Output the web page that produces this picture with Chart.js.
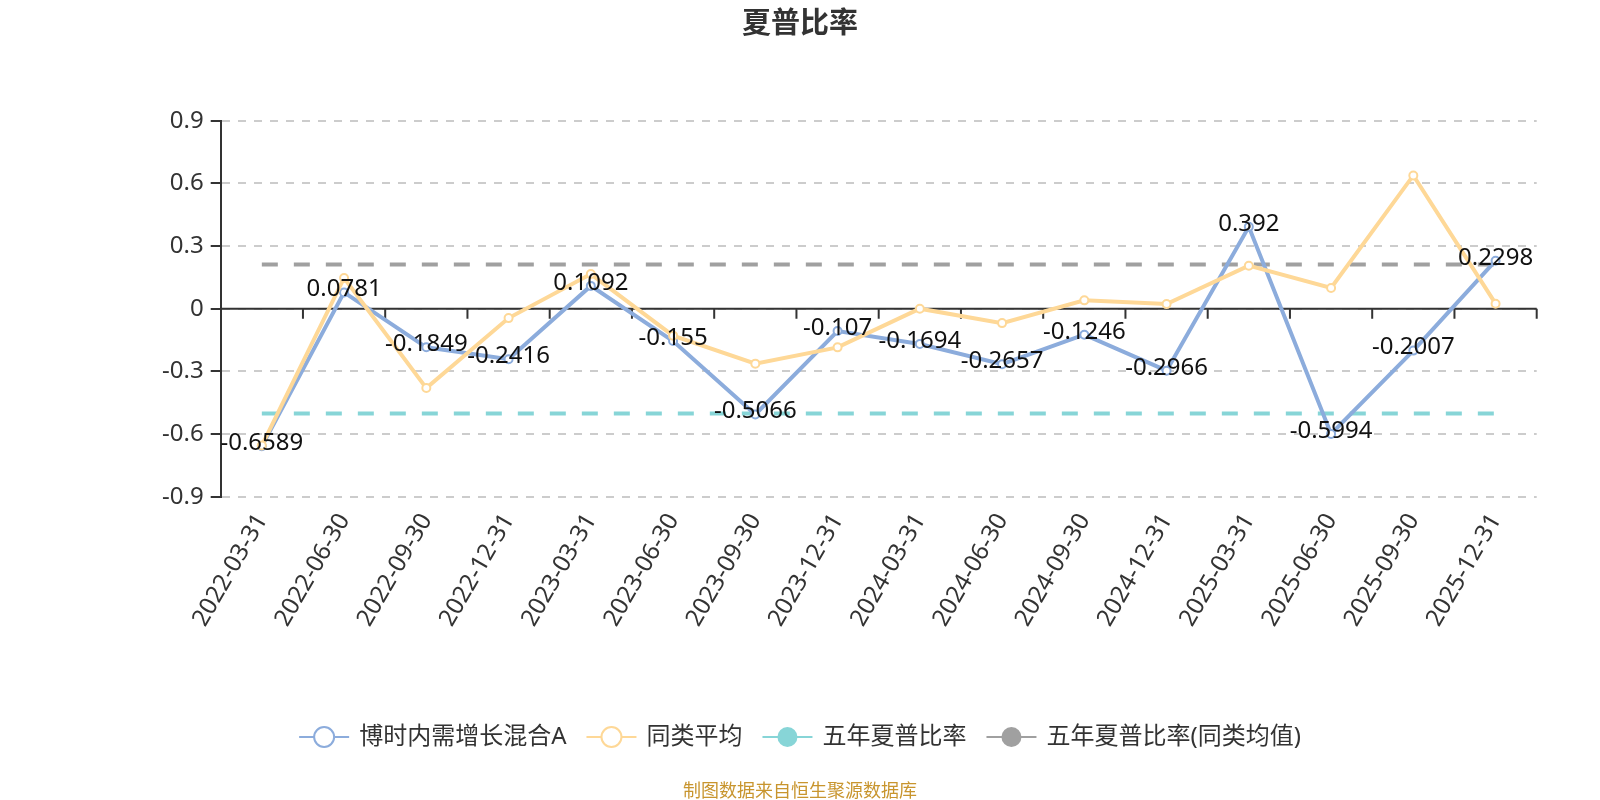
<!DOCTYPE html>
<html lang="zh">
<head>
<meta charset="UTF-8">
<title>夏普比率</title>
<style>
    body { margin: 0; background: #fff; }
    #wrap { width: 1600px; height: 800px; }
</style>
</head>
<body>
<div id="wrap"><canvas id="chart" width="1600" height="800"></canvas></div>
<script src="https://cdn.jsdelivr.net/npm/chart.js"></script>
<script>
// values
const categories = ['2022-03-31', '2022-06-30', '2022-09-30', '2022-12-31', '2023-03-31', '2023-06-30',
    '2023-09-30', '2023-12-31', '2024-03-31', '2024-06-30', '2024-09-30', '2024-12-31',
    '2025-03-31', '2025-06-30', '2025-09-30', '2025-12-31'];
const fundValues = [-0.6589, 0.0781, -0.1849, -0.2416, 0.1092, -0.155, -0.5066, -0.107,
    -0.1694, -0.2657, -0.1246, -0.2966, 0.392, -0.5994, -0.2007, 0.2298];
const peerAvgValues = [-0.655, 0.147, -0.380, -0.045, 0.166, -0.129, -0.263, -0.185,
    0.0, -0.069, 0.040, 0.022, 0.206, 0.099, 0.638, 0.024];
const fiveYearValues = [-0.502, -0.502, -0.502, -0.502, -0.502, -0.502, -0.502, -0.502,
    -0.502, -0.502, -0.502, -0.502, -0.502, -0.502, -0.502, -0.502];
const fiveYearPeerValues = [0.212, 0.212, 0.212, 0.212, 0.212, 0.212, 0.212, 0.212,
    0.212, 0.212, 0.212, 0.212, 0.212, 0.212, 0.212, 0.212];
const yTicks = [-0.9, -0.6, -0.3, 0, 0.3, 0.6, 0.9];
const seriesNames = ['博时内需增长混合A', '同类平均', '五年夏普比率', '五年夏普比率(同类均值)'];

const BLUE = '#8cacdc';
const YELLOW = '#fed897';
const TEAL = '#87d5d7';
const GRAY = '#a0a0a0';
const FONT = "'Noto Sans', 'Noto Sans CJK SC', sans-serif";

// legend entries: colour + whether the marker is hollow
const legendItems = [
    { name: seriesNames[0], color: BLUE, hollow: true },
    { name: seriesNames[1], color: YELLOW, hollow: true },
    { name: seriesNames[2], color: TEAL, hollow: false },
    { name: seriesNames[3], color: GRAY, hollow: false }
];

// extra drawing: title, zero axis line, value labels, legend, source note
const decorPlugin = {
    id: 'decor',
    beforeDatasetsDraw(chart) {
        const ctx = chart.ctx;
        const x = chart.scales.x, y = chart.scales.y;
        const y0 = y.getPixelForValue(0);
        const step = x.getPixelForValue(1) - x.getPixelForValue(0);
        ctx.save();
        ctx.strokeStyle = '#333';
        ctx.lineWidth = 2;
        ctx.beginPath();
        ctx.moveTo(chart.chartArea.left, y0);
        ctx.lineTo(chart.chartArea.right, y0);
        for (let i = 0; i < categories.length; i++) {
            const bx = x.getPixelForValue(i) + step / 2;
            ctx.moveTo(bx, y0);
            ctx.lineTo(bx, y0 + 10);
        }
        ctx.stroke();
        ctx.restore();
    },
    afterDatasetsDraw(chart) {
        const ctx = chart.ctx;
        const meta = chart.getDatasetMeta(0);
        ctx.save();
        ctx.font = '24px ' + FONT;
        ctx.fillStyle = '#111';
        ctx.textAlign = 'center';
        ctx.textBaseline = 'middle';
        meta.data.forEach((pt, i) => {
            ctx.fillText(String(fundValues[i]), pt.x, pt.y - 3);
        });
        ctx.restore();
    },
    afterDraw(chart) {
        const ctx = chart.ctx;
        ctx.save();
        // title
        ctx.font = "bold 29px 'Noto Sans CJK SC', sans-serif";
        ctx.fillStyle = '#333';
        ctx.textAlign = 'center';
        ctx.textBaseline = 'middle';
        ctx.fillText('夏普比率', 800, 22);

        // legend
        ctx.font = '24px ' + FONT;
        const iconW = 50, textGap = 10, itemGap = 20;
        const widths = legendItems.map(it => iconW + textGap + ctx.measureText(it.name).width);
        const total = widths.reduce((a, b) => a + b, 0) + itemGap * (legendItems.length - 1);
        let lx = 800 - total / 2;
        const ly = 737;
        legendItems.forEach((it, i) => {
            ctx.strokeStyle = it.color;
            ctx.lineWidth = 2;
            ctx.beginPath();
            ctx.moveTo(lx, ly);
            ctx.lineTo(lx + iconW, ly);
            ctx.stroke();
            ctx.beginPath();
            ctx.arc(lx + iconW / 2, ly, 10, 0, Math.PI * 2);
            if (it.hollow) {
                ctx.fillStyle = '#fff';
                ctx.fill();
                ctx.stroke();
            } else {
                ctx.fillStyle = it.color;
                ctx.fill();
            }
            ctx.fillStyle = '#333';
            ctx.textAlign = 'left';
            ctx.fillText(it.name, lx + iconW + textGap, ly);
            lx += widths[i] + itemGap;
        });

        // source note
        ctx.font = "18px 'Noto Sans CJK SC', sans-serif";
        ctx.fillStyle = '#c8952e';
        ctx.textAlign = 'center';
        ctx.fillText('制图数据来自恒生聚源数据库', 800, 790);
        ctx.restore();
    }
};

const ctx = document.getElementById('chart').getContext('2d');
new Chart(ctx, {
    type: 'line',
    data: {
        labels: categories,
        datasets: [{
            label: seriesNames[0],
            data: fundValues,
            borderColor: BLUE,
            borderWidth: 4,
            pointRadius: 4,
            pointBorderWidth: 2,
            pointBackgroundColor: '#fff',
            pointBorderColor: BLUE,
            order: 1
        }, {
            label: seriesNames[1],
            data: peerAvgValues,
            borderColor: YELLOW,
            borderWidth: 4,
            pointRadius: 4,
            pointBorderWidth: 2,
            pointBackgroundColor: '#fff',
            pointBorderColor: YELLOW,
            order: 0
        }, {
            label: seriesNames[2],
            data: fiveYearValues,
            borderColor: TEAL,
            borderWidth: 4,
            borderDash: [16, 16],
            pointRadius: 0,
            order: 2
        }, {
            label: seriesNames[3],
            data: fiveYearPeerValues,
            borderColor: GRAY,
            borderWidth: 4,
            borderDash: [16, 16],
            pointRadius: 0,
            order: 3
        }]
    },
    options: {
        responsive: false,
        animation: false,
        devicePixelRatio: 1,
        layout: { padding: { top: 120.7, right: 63.3, left: 0, bottom: 0 } },
        plugins: {
            legend: { display: false },
            title: { display: false },
            tooltip: { enabled: false }
        },
        scales: {
            x: {
                offset: true,
                grid: { display: false, drawTicks: false },
                border: { display: false },
                ticks: {
                    autoSkip: false,
                    minRotation: 60,
                    maxRotation: 60,
                    padding: 12,
                    color: '#333',
                    font: { size: 24, family: FONT }
                },
                afterFit: (scale) => { scale.height = 303.3; }
            },
            y: {
                min: -0.9,
                max: 0.9,
                afterBuildTicks: (scale) => { scale.ticks = yTicks.map(v => ({ value: v })); },
                ticks: {
                    padding: 7,
                    color: '#333',
                    font: { size: 24, family: FONT },
                    callback: (v) => String(v)
                },
                grid: {
                    color: '#cccccc',
                    lineWidth: 2,
                    tickColor: '#333',
                    tickLength: 10,
                    tickWidth: 2
                },
                border: { display: true, color: '#333', width: 2, dash: [8, 8] },
                afterFit: (scale) => { scale.width = 220.7; }
            }
        }
    },
    plugins: [decorPlugin]
});
</script>
</body>
</html>
